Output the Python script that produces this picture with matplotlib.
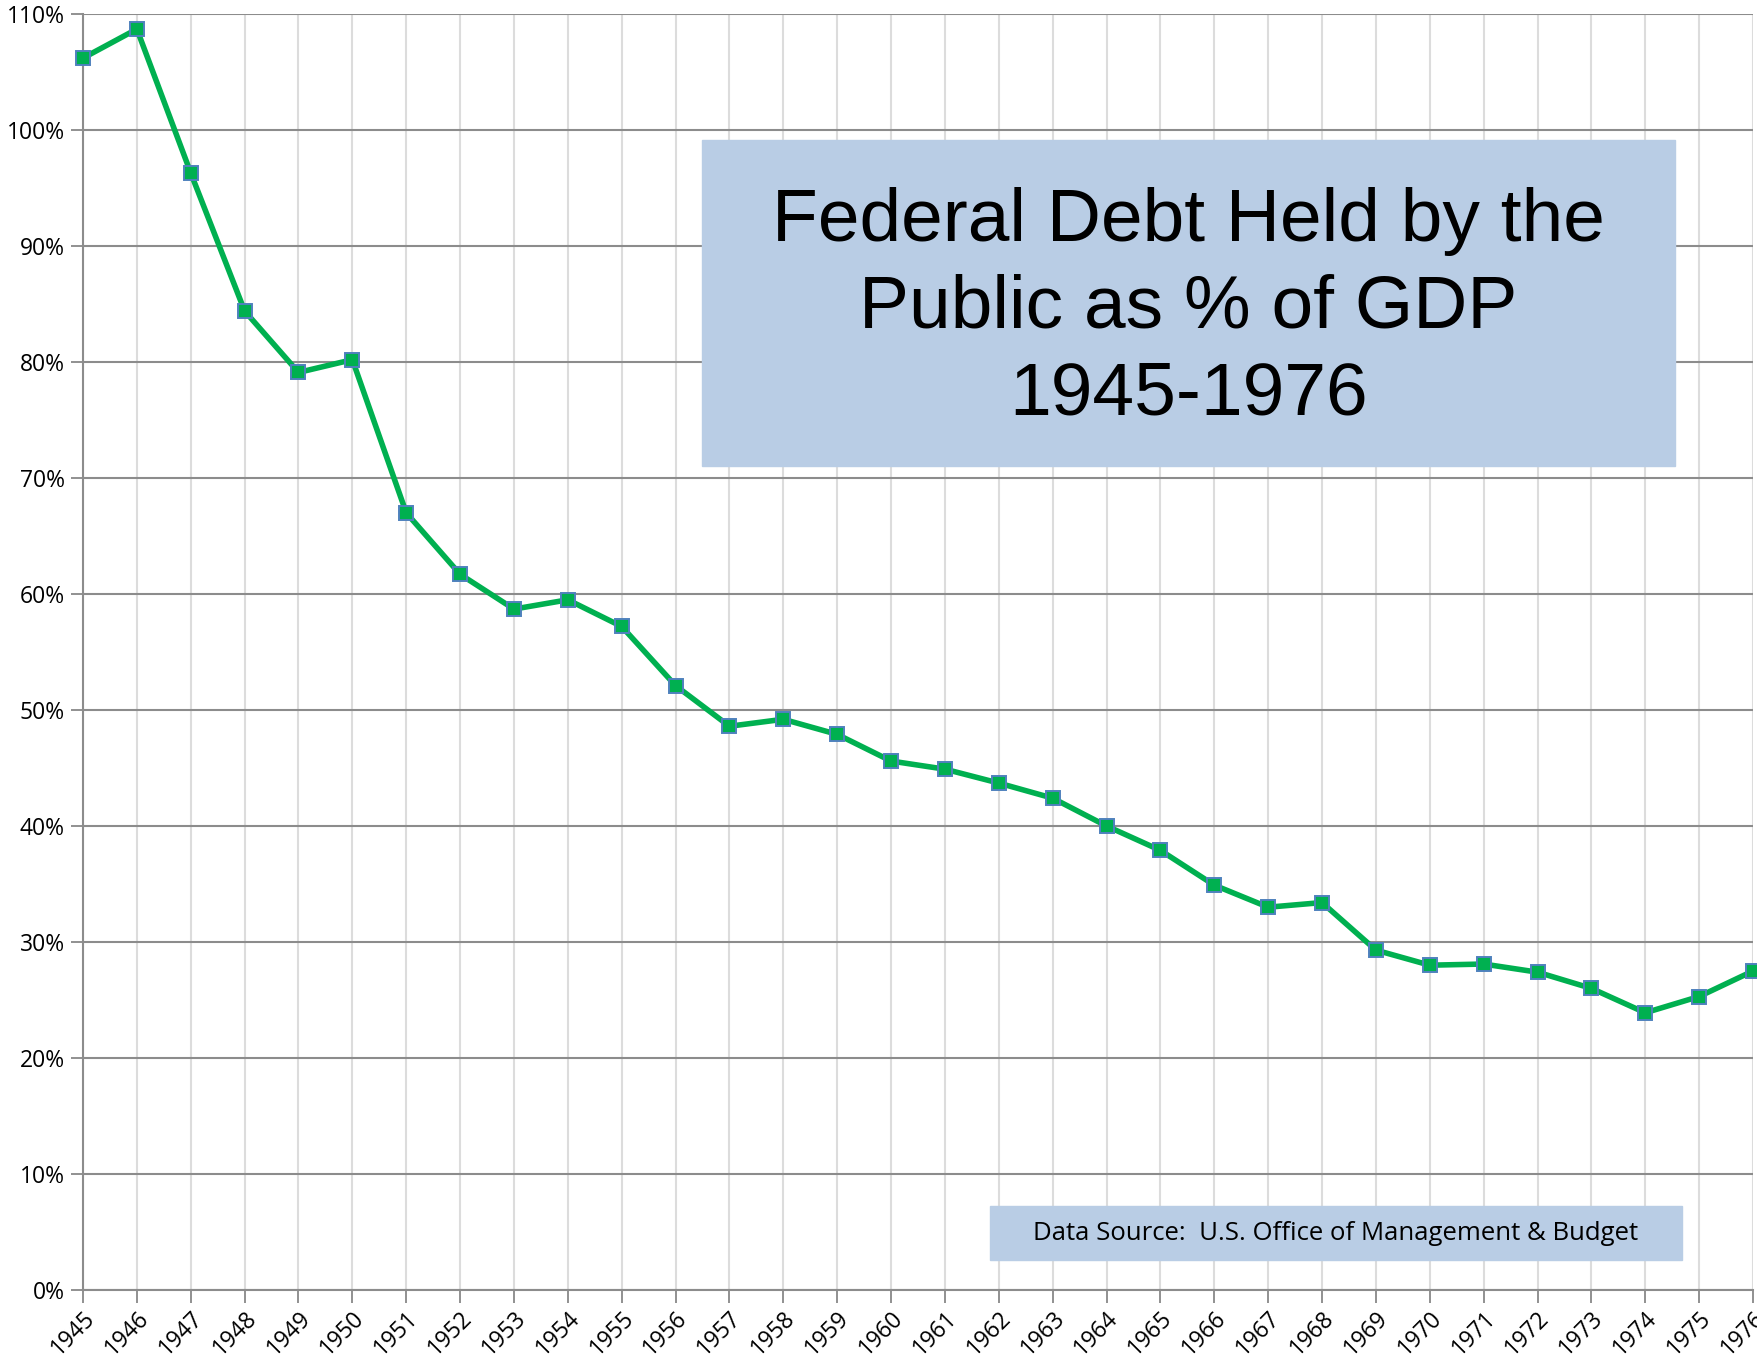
import matplotlib.pyplot as plt
from matplotlib.ticker import FuncFormatter, MultipleLocator

years = list(range(1945, 1977))
debt_pct = [106.2, 108.7, 96.3, 84.4, 79.1, 80.2, 67.0, 61.7, 58.7, 59.5,
            57.2, 52.1, 48.6, 49.2, 47.9, 45.6, 44.9, 43.7, 42.4, 40.0,
            37.9, 34.9, 33.0, 33.4, 29.3, 28.0, 28.1, 27.4, 26.0, 23.9,
            25.3, 27.5]

title = 'Federal Debt Held by the\nPublic as % of GDP\n1945-1976'
source = 'Data Source:  U.S. Office of Management & Budget'

fig = plt.figure(figsize=(17.58, 13.69), dpi=100)
ax = fig.add_axes([83 / 1758, 1 - 1290 / 1369, 1670 / 1758, 1276 / 1369])

ax.plot(years, debt_pct, color='#00b050', lw=4, marker='s', ms=9.5,
        mfc='#00b050', mec='#4f81bd', mew=1.4, zorder=5, clip_on=False)

ax.set_xlim(1945, 1976)
ax.set_ylim(0, 110)
ax.yaxis.set_major_locator(MultipleLocator(10))
ax.yaxis.set_major_formatter(FuncFormatter(lambda v, p: f'{v:.0f}%'))
ax.set_xticks(years)
ax.set_xticklabels([str(y) for y in years], rotation=45, ha='right',
                   rotation_mode='anchor', fontsize=16.5, family='Open Sans')
for lab in ax.get_yticklabels():
    lab.set_family('Open Sans')
ax.tick_params(axis='y', labelsize=16.5, length=9, color='#888888', width=1.3, pad=4)
ax.tick_params(axis='x', length=9, color='#888888', width=1.3, pad=3)

ax.yaxis.grid(True, color='#8c8c8c', lw=1.5)
ax.xaxis.grid(True, color='#dcdcdc', lw=1.5)
ax.set_axisbelow(True)
for s in ['top', 'right']:
    ax.spines[s].set_visible(False)
for s in ['left', 'bottom']:
    ax.spines[s].set_color('#8c8c8c')
    ax.spines[s].set_linewidth(1.5)

# title box
fig.patches.append(plt.Rectangle((702 / 1758, 1 - 466 / 1369), 973 / 1758, 326 / 1369,
                                 transform=fig.transFigure, color='#b9cde5', zorder=6))
fig.text((702 + 973 / 2) / 1758, 1 - 308 / 1369, title, ha='center', va='center',
         fontsize=54, family='Liberation Sans', linespacing=1.33, zorder=7)

# source box
fig.patches.append(plt.Rectangle((990 / 1758, 1 - 1260 / 1369), 692 / 1758, 54 / 1369,
                                 transform=fig.transFigure, color='#b9cde5', zorder=6))
fig.text((990 + 346) / 1758, 1 - 1234 / 1369, source, ha='center', va='center',
         fontsize=18.5, family='Open Sans', zorder=7)

fig.savefig('out.png', dpi=100)
